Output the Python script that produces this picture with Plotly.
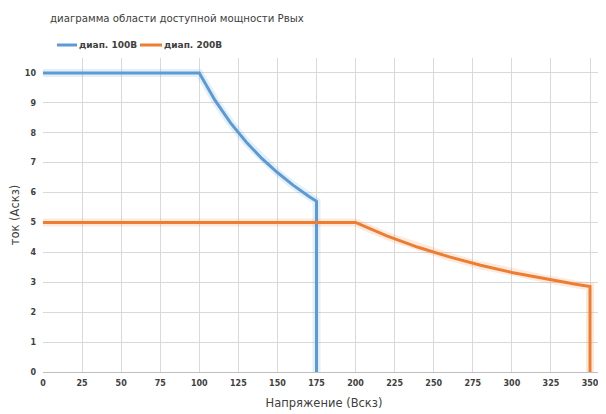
import plotly.graph_objects as go

# Data
v_100 = [0, 100, 110, 120, 130, 140, 150, 160, 170, 175, 175]
i_100 = [10, 10, 9.09, 8.33, 7.69, 7.14, 6.67, 6.25, 5.88, 5.71, 0]
v_200 = [0, 200, 220, 240, 260, 280, 300, 320, 340, 350, 350]
i_200 = [5, 5, 4.55, 4.17, 3.85, 3.57, 3.33, 3.13, 2.94, 2.86, 0]
series_names = ["диап. 100В", "диап. 200В"]
x_ticks = list(range(0, 351, 25))
y_ticks = list(range(0, 11))

blue = "#5B9BD5"
orange = "#ED7D31"

# page body has an 8px margin, so the figure is sized/offset to compensate
W, H = 598, 406
L, R, T, B = 35, 1, 50, 42
PW, PH = W - L - R, H - T - B

def px(xi):  # image x -> paper x
    return (xi - 8 - L) / PW

def py(yi):  # image y -> paper y
    return 1 - (yi - 8 - T) / PH

fig = go.Figure()
fig.add_trace(go.Scatter(x=v_100, y=i_100, mode="lines", line=dict(color="rgba(91,155,213,0.16)", width=8), showlegend=False, hoverinfo="skip"))
fig.add_trace(go.Scatter(x=v_200, y=i_200, mode="lines", line=dict(color="rgba(237,125,49,0.16)", width=8), showlegend=False, hoverinfo="skip"))
fig.add_trace(go.Scatter(x=v_100, y=i_100, mode="lines", name=series_names[0], line=dict(color=blue, width=3), showlegend=False))
fig.add_trace(go.Scatter(x=v_200, y=i_200, mode="lines", name=series_names[1], line=dict(color=orange, width=3), showlegend=False))

# legend drawn manually to match compact swatches
leg = [(57, 77, blue, series_names[0]), (140, 162, orange, series_names[1])]
for x0, x1, col, name in leg:
    fig.add_shape(type="line", xref="paper", yref="paper", x0=px(x0), x1=px(x1), y0=py(45), y1=py(45),
                  line=dict(color=col, width=3))
    fig.add_annotation(text=name, xref="paper", yref="paper", x=px(x1), y=py(45), xanchor="left", yanchor="middle",
                       showarrow=False, font=dict(size=9, color="#404040", family="DejaVu Sans", weight="bold"))

fig.add_annotation(text="диаграмма области доступной мощности Рвых", xref="paper", yref="paper",
                   x=px(48), y=py(18), xanchor="left", yanchor="middle", showarrow=False,
                   font=dict(size=10.2, color="#404040", family="DejaVu Sans"))

fig.update_layout(
    width=W, height=H,
    margin=dict(l=L, r=R, t=T, b=B),
    paper_bgcolor="white", plot_bgcolor="white",
    font=dict(family="DejaVu Sans", color="#404040"),
    showlegend=False,
    xaxis=dict(range=[0, 359.6], tickvals=x_ticks, showgrid=True, gridcolor="#D9D9D9", gridwidth=1,
               zeroline=False, showline=True, linecolor="#BFBFBF",
               tickfont=dict(size=8, color="#404040", family="DejaVu Sans", weight="bold"),
               ticklabelstandoff=3,
               title=dict(text="Напряжение (Вскз)", font=dict(size=11.5, color="#404040"), standoff=12)),
    yaxis=dict(range=[0, 10.5], tickvals=y_ticks, showgrid=True, gridcolor="#D9D9D9", gridwidth=1,
               zeroline=False, showline=False,
               tickfont=dict(size=8, color="#404040", family="DejaVu Sans", weight="bold"),
               ticklabelstandoff=6,
               title=dict(text="ток (Аскз)", font=dict(size=11.5, color="#404040"), standoff=4)),
)
fig.write_html("out.html")
